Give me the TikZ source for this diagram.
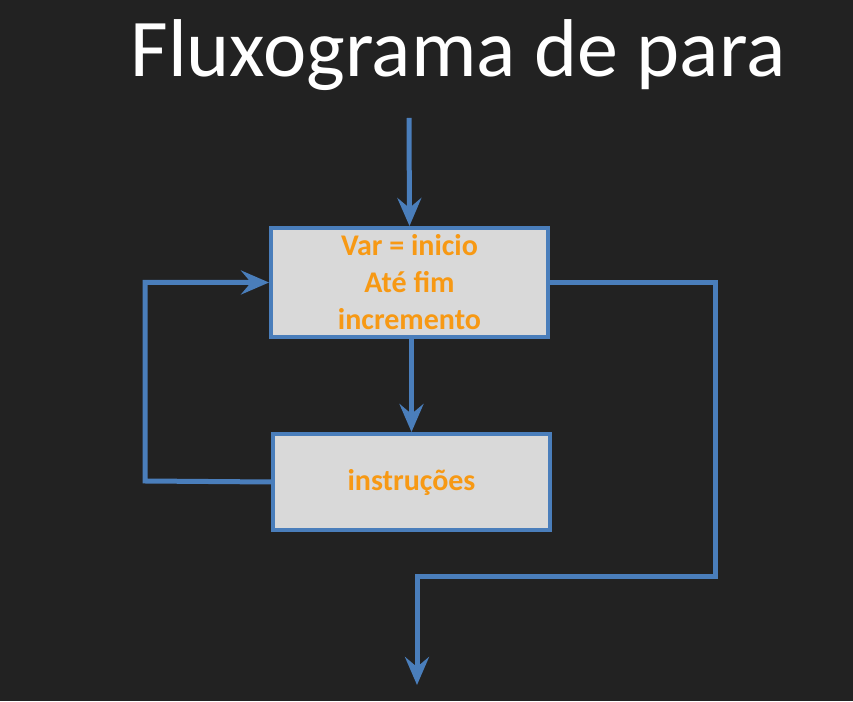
\documentclass[tikz,border=0pt]{standalone}
\usepackage{fontspec}
\setmainfont{Carlito}
\usetikzlibrary{arrows.meta}
\definecolor{slide}{RGB}{34,34,34}
\definecolor{lineblue}{RGB}{74,126,187}
\definecolor{boxgray}{RGB}{217,217,217}
\definecolor{textorange}{RGB}{247,153,20}
\begin{document}
\begin{tikzpicture}[x=1pt,y=1pt,
    flow/.style={draw=lineblue,line width=5pt,-{Stealth[length=28pt,width=24pt,inset=10pt]}},
    block/.style={draw=lineblue,line width=4pt,fill=boxgray,minimum width=277pt,
        text=textorange,font=\bfseries\fontsize{30}{37}\selectfont,align=center}]
            \fill[slide] (0,0) rectangle (853,701);
            \useasboundingbox (0,0) rectangle (853,701);
            \node[text=white,font=\fontsize{82}{100}\selectfont,anchor=base] (title) at (458,624) {Fluxograma de para};

            \node[block,minimum height=109pt] (cfg) at (409.5,418.5) {Var = inicio\\Até fim\\incremento};
            \node[block,minimum height=96pt] (body) at (411.5,219) {instruções};

            \coordinate (start) at (409,583);
            \coordinate (loopL) at (145,220);
            \coordinate (exitR) at (715,124);
            \coordinate (exitL) at (417,124);
            \coordinate (finish) at (417,16);

            \draw[flow] (start) to (cfg.north);
            \draw[flow] (body.north |- cfg.south) to (body.north);
            \draw[flow] (body.west) -- (loopL) |- (cfg.west);
            \draw[flow] (cfg.east) -| (exitR) -- (exitL) -- (finish);
        \end{tikzpicture}
\end{document}
